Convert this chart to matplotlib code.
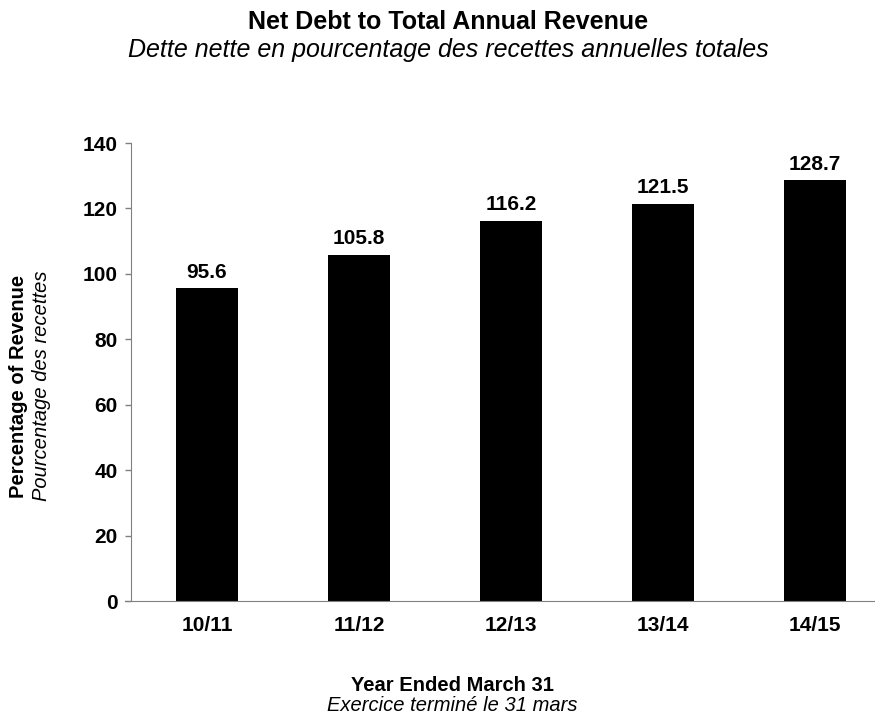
import matplotlib
matplotlib.use("Agg")
import matplotlib.pyplot as plt

plt.rcParams['font.family'] = ['Liberation Sans', 'DejaVu Sans']

years = ["10/11", "11/12", "12/13", "13/14", "14/15"]
debt_pct = [95.6, 105.8, 116.2, 121.5, 128.7]
y_ticks = [0, 20, 40, 60, 80, 100, 120, 140]

fig = plt.figure(figsize=(8.75, 7.19), dpi=100)
ax = fig.add_axes([0.1497, 0.1641, 0.8503, 0.637])

x = range(len(years))
ax.bar(x, debt_pct, width=0.41, color="black", zorder=2)
for xi, v in zip(x, debt_pct):
    ax.annotate(f"{v:.1f}", (xi, v), xytext=(0, 7.5), textcoords="offset points",
                ha="center", va="baseline", fontsize=15, fontweight="bold")

ax.set_xlim(-0.5, 4.395)
ax.set_ylim(0, 140)
ax.set_yticks(y_ticks)
ax.set_xticks(list(x))
ax.set_xticklabels(years, fontsize=15, fontweight="bold")
ax.set_yticklabels([str(t) for t in y_ticks], fontsize=15, fontweight="bold")
ax.tick_params(axis="x", length=0, pad=11)
ax.tick_params(axis="y", length=4.5, color="#808080", width=1, pad=5)

for side in ["top", "right"]:
    ax.spines[side].set_visible(False)
ax.spines["left"].set_color("#808080")
ax.spines["bottom"].set_color("#808080")
ax.spines["bottom"].set_bounds(-0.54, 4.395)
ax.spines["bottom"].set_clip_on(False)

# titles
fig.text(0.512, 0.9694, "Net Debt to Total Annual Revenue", ha="center", va="center",
         fontsize=18, fontweight="bold")
fig.text(0.512, 0.9305, "Dette nette en pourcentage des recettes annuelles totales",
         ha="center", va="center", fontsize=18, style="italic")

# x axis title
fig.text(0.5166, 0.0459, "Year Ended March 31", ha="center", va="center",
         fontsize=14.5, fontweight="bold")
fig.text(0.5166, 0.0181, "Exercice terminé le 31 mars", ha="center", va="center",
         fontsize=14.5, style="italic")

# y axis title
fig.text(0.0206, 0.463, "Percentage of Revenue", ha="center", va="center",
         rotation=90, fontsize=14.5, fontweight="bold")
fig.text(0.0469, 0.463, "Pourcentage des recettes", ha="center", va="center",
         rotation=90, fontsize=14.5, style="italic")

fig.savefig("out.png", dpi=100)
